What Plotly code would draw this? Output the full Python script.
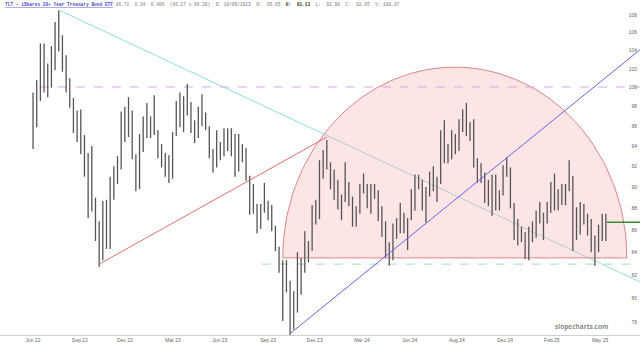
import numpy as np
import pandas as pd
import plotly.graph_objects as go

# ---------------- data (weekly bars, dividend-adjusted prices) -------------
week_end = [
    "2022-06-17", "2022-06-24", "2022-07-01", "2022-07-08", "2022-07-15",
    "2022-07-22", "2022-07-29", "2022-08-05", "2022-08-12", "2022-08-19", "2022-08-26", "2022-09-02",
    "2022-09-09", "2022-09-16", "2022-09-23", "2022-09-30", "2022-10-07", "2022-10-14", "2022-10-21",
    "2022-10-28", "2022-11-04", "2022-11-11", "2022-11-18", "2022-11-25", "2022-12-02", "2022-12-09",
    "2022-12-16", "2022-12-23", "2022-12-30",
    "2023-01-06", "2023-01-13", "2023-01-20", "2023-01-27", "2023-02-03", "2023-02-10", "2023-02-17",
    "2023-02-24", "2023-03-03", "2023-03-10", "2023-03-17", "2023-03-24", "2023-03-31", "2023-04-07",
    "2023-04-14", "2023-04-21", "2023-04-28", "2023-05-05", "2023-05-12", "2023-05-19", "2023-05-26",
    "2023-06-02", "2023-06-09", "2023-06-16", "2023-06-23", "2023-06-30", "2023-07-07", "2023-07-14",
    "2023-07-21", "2023-07-28", "2023-08-04", "2023-08-11", "2023-08-18", "2023-08-25", "2023-09-01",
    "2023-09-08", "2023-09-15", "2023-09-22", "2023-09-29", "2023-10-06", "2023-10-13", "2023-10-20",
    "2023-10-27", "2023-11-03", "2023-11-10", "2023-11-17", "2023-11-24", "2023-12-01", "2023-12-08",
    "2023-12-15", "2023-12-22", "2023-12-29",
    "2024-01-05", "2024-01-12", "2024-01-19", "2024-01-26", "2024-02-02", "2024-02-09", "2024-02-16",
    "2024-02-23", "2024-03-01", "2024-03-08", "2024-03-15", "2024-03-22", "2024-03-29", "2024-04-05",
    "2024-04-12", "2024-04-19", "2024-04-26", "2024-05-03", "2024-05-10", "2024-05-17", "2024-05-24",
    "2024-05-31", "2024-06-07", "2024-06-14", "2024-06-21", "2024-06-28", "2024-07-05", "2024-07-12",
    "2024-07-19", "2024-07-26", "2024-08-02", "2024-08-09", "2024-08-16", "2024-08-23", "2024-08-30",
    "2024-09-06", "2024-09-13", "2024-09-20", "2024-09-27", "2024-10-04", "2024-10-11", "2024-10-18",
    "2024-10-25", "2024-11-01", "2024-11-08", "2024-11-15", "2024-11-22", "2024-11-29", "2024-12-06",
    "2024-12-13", "2024-12-20", "2024-12-27",
    "2025-01-03", "2025-01-10", "2025-01-17", "2025-01-24", "2025-01-31", "2025-02-07", "2025-02-14",
    "2025-02-21", "2025-02-28", "2025-03-07", "2025-03-14", "2025-03-21", "2025-03-28", "2025-04-04",
    "2025-04-11", "2025-04-18", "2025-04-25", "2025-05-02", "2025-05-09", "2025-05-16", "2025-05-23",
    "2025-05-30", "2025-06-06", "2025-06-13",
]
week_high = [
    99.5, 100.8, 104.8, 104.8, 102.6, 104.5, 107.2, 108.5, 105.7, 103.5, 101.0, 98.9,
    97.6, 97.7, 95.1, 93.3, 94.0, 89.0, 86.8, 88.7, 88.8, 91.0, 92.0, 93.0, 97.5, 98.0, 99.0, 97.6, 93.2,
    95.2, 97.0, 98.4, 97.0, 99.2, 95.6, 94.2, 93.3, 93.1, 95.4, 98.6, 99.5, 99.1, 100.4, 98.5, 96.6,
    98.0, 99.3, 97.4, 96.0, 93.7, 95.6, 94.4, 95.8, 95.8, 95.8, 95.2, 95.2, 94.2, 93.8, 91.1, 90.3,
    88.4, 88.4, 90.4, 88.7, 88.3, 86.4, 84.5, 83.3, 83.3, 81.5, 80.6, 84.0, 83.5, 85.9, 85.0, 88.3,
    88.8, 92.6, 93.6, 94.6,
    92.4, 91.7, 90.7, 89.3, 92.4, 90.5, 89.1, 88.2, 90.3, 91.3, 90.3, 90.3, 90.3, 89.7, 88.2, 86.8,
    84.9, 86.6, 87.1, 88.5, 87.6, 87.1, 89.8, 91.2, 91.2, 90.7, 90.0, 91.5, 92.0, 91.0, 95.6, 96.6,
    94.2, 95.6, 95.2, 96.7, 97.7, 98.4, 96.4, 96.7, 92.8, 92.3, 91.4, 90.7, 91.2, 91.2, 89.7, 92.1,
    92.9, 91.9, 88.5, 87.0,
    86.3, 85.8, 86.3, 86.8, 87.8, 88.6, 87.6, 88.6, 90.5, 91.3, 89.8, 90.3, 90.3, 92.6, 91.1, 88.1,
    88.6, 88.4, 87.5, 87.0, 85.5, 86.5, 87.5, 87.5,
]
week_low = [
    93.7, 95.9, 98.6, 99.5, 99.0, 100.0, 101.9, 103.9, 101.7, 99.5, 97.9, 95.3,
    94.4, 93.2, 91.0, 87.1, 87.7, 85.0, 82.7, 83.3, 84.3, 84.3, 88.8, 90.3, 91.7, 94.4, 94.9, 92.7, 89.6,
    89.8, 93.4, 94.8, 94.8, 95.1, 92.8, 91.9, 91.0, 90.4, 90.8, 95.0, 95.9, 95.4, 97.1, 95.3, 94.3,
    94.8, 96.0, 95.6, 92.8, 91.4, 91.9, 92.6, 93.0, 93.5, 93.0, 91.0, 91.5, 92.4, 90.6, 87.4, 87.5,
    85.7, 86.1, 87.6, 86.9, 85.9, 84.1, 82.2, 78.1, 80.5, 76.8, 77.4, 78.8, 80.3, 82.2, 83.1, 84.1,
    86.5, 87.0, 90.8, 91.7,
    89.8, 88.8, 87.9, 86.9, 88.6, 88.2, 86.3, 86.3, 87.5, 89.4, 88.0, 87.5, 88.9, 86.8, 85.4, 83.5,
    82.8, 83.3, 85.2, 85.7, 85.7, 84.2, 86.9, 87.8, 89.8, 87.8, 86.7, 89.1, 89.6, 88.6, 90.3, 92.3,
    92.3, 92.7, 93.2, 93.5, 95.4, 95.0, 94.5, 91.9, 90.4, 90.4, 88.5, 88.2, 87.3, 87.8, 87.8, 89.2,
    91.0, 88.0, 85.1, 84.6,
    84.9, 83.4, 83.3, 84.9, 85.3, 86.6, 85.1, 86.6, 87.6, 87.8, 87.8, 88.3, 88.3, 89.6, 84.1, 85.1,
    85.6, 86.5, 85.5, 84.0, 82.8, 84.0, 85.0, 85.0,
]
last_price = 86.71

# axis scale and ticks
x_start, x_end = "2022-04-13", "2025-08-15"
y_min, y_max = 76.95, 109.73
y_ticks = list(range(78, 110, 2))
x_ticks = ["2022-06-15", "2022-09-12", "2022-12-07", "2023-03-09", "2023-06-06", "2023-09-06",
           "2023-12-04", "2024-03-03", "2024-06-02", "2024-08-31", "2024-12-01", "2025-02-28",
           "2025-05-31"]
x_tick_text = ["Jun 22", "Sep 22", "Dec 22", "Mar 23", "Jun 23", "Sep 23", "Dec 23", "Mar 24",
               "Jun 24", "Aug 24", "Dec 24", "Feb 25", "May 25"]

# user drawings (anchors in date / price)
cyan_dates, cyan_prices = ["2022-08-02", x_end], [108.6, 81.4]
red_dates, red_prices = ["2022-10-21", "2023-12-27"], [83.0, 94.9]
blue_dates, blue_prices = ["2023-10-19", x_end], [77.1, 104.1]
resist_dates, resist_price = ["2022-06-28", x_end], 100.07
support_dates, support_price = ["2023-08-25", x_end], 82.95
dome_left, dome_right = "2023-10-04", "2025-07-21"
dome_base, dome_top = 83.5, 102.2

header_title = "TLT - iShares 20+ Year Treasury Bond ETF"
header_values = "86.71  0.34  0.40%  (86.27 x 86.28)  D: 10/09/2023  O:  95.65  "
header_bold = "H:  93.13"
header_tail = "  L:  92.98  C:  92.85  V: 100.67"
watermark = "slopecharts.com"

# ---------------- figure -------------
fig = go.Figure()

# cyan descending trendline
fig.add_trace(go.Scatter(x=cyan_dates, y=cyan_prices, mode="lines",
                         line=dict(color="#8fdede", width=1), hoverinfo="skip"))

# dome (half ellipse in date / log-price space)
t = np.linspace(0, np.pi, 120)
dl, dr = pd.Timestamp(dome_left), pd.Timestamp(dome_right)
center = dl + (dr - dl) / 2
half = (dr - dl) / 2
dome_x = [center + half * float(np.cos(a)) for a in t]
lb, lt = np.log(dome_base), np.log(dome_top)
dome_y = list(np.exp(lb + (lt - lb) * np.sin(t)))
dome_x.append(dome_x[0])
dome_y.append(dome_y[0])
fig.add_trace(go.Scatter(x=dome_x, y=dome_y, mode="lines", fill="toself",
                         fillcolor="rgba(250,175,175,0.33)",
                         line=dict(color="#e08585", width=1), hoverinfo="skip"))

# horizontal levels
fig.add_trace(go.Scatter(x=resist_dates, y=[resist_price] * 2, mode="lines",
                         line=dict(color="#d9a6e6", width=1, dash="dash"), hoverinfo="skip"))
fig.add_trace(go.Scatter(x=support_dates, y=[support_price] * 2, mode="lines",
                         line=dict(color="#acdcb0", width=1, dash="dash"), hoverinfo="skip"))

# price bars (each weekly bar drawn at mid-week)
bx, by = [], []
for d, h, l in zip(week_end, week_high, week_low):
    mid = pd.Timestamp(d) - pd.Timedelta(days=2)
    bx += [mid, mid, None]
    by += [l, h, None]
fig.add_trace(go.Scatter(x=bx, y=by, mode="lines", line=dict(color="#555555", width=1.3),
                         hoverinfo="skip"))

# red and blue trendlines
fig.add_trace(go.Scatter(x=red_dates, y=red_prices, mode="lines",
                         line=dict(color="#e07070", width=1), hoverinfo="skip"))
fig.add_trace(go.Scatter(x=blue_dates, y=blue_prices, mode="lines",
                         line=dict(color="#6464e6", width=1), hoverinfo="skip"))

# last price marker
fig.add_trace(go.Scatter(x=[week_end[-1], x_end], y=[last_price] * 2, mode="lines",
                         line=dict(color="#2e8b2e", width=1.5), hoverinfo="skip"))

fig.update_layout(
    width=640, height=347,
    margin=dict(l=0, r=0, t=0, b=12),
    paper_bgcolor="white", plot_bgcolor="white",
    showlegend=False,
    xaxis=dict(type="date", range=[x_start, x_end], tickvals=x_ticks, ticktext=x_tick_text,
               showgrid=False, zeroline=False, showline=True, linecolor="#d0d0d0",
               ticks="", tickfont=dict(size=5, color="#666", family="Liberation Sans")),
    yaxis=dict(type="log", range=[np.log10(y_min), np.log10(y_max)], side="right",
               tickvals=y_ticks, ticktext=[str(v) for v in y_ticks],
               ticklabelposition="inside", showgrid=False, zeroline=False, showline=False,
               ticks="", tickfont=dict(size=5, color="#666", family="Liberation Sans")),
    annotations=[
        dict(xref="paper", yref="paper", x=0.004, y=0.999, xanchor="left", yanchor="top",
             showarrow=False,
             text=(f"<span style='color:#4b4bd0'><b><u>{header_title}</u></b></span>"
                   f"<span style='color:#777'> {header_values}</span>"
                   f"<span style='color:#333'><b>{header_bold}</b></span>"
                   f"<span style='color:#777'>{header_tail}</span>"),
             font=dict(family="Liberation Mono", size=4.5)),
        dict(xref="paper", yref="paper", x=0.953, y=0.005, xanchor="right", yanchor="bottom",
             showarrow=False, text=f"<b>{watermark}</b>",
             font=dict(family="Open Sans", size=6.5, color="#8a8a8a")),
    ],
)

fig.write_html("out.html")
